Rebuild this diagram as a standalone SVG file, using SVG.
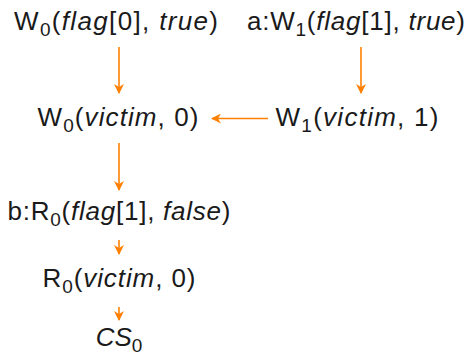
<svg xmlns="http://www.w3.org/2000/svg" width="475" height="356" viewBox="0 0 475 356">
<defs>
<marker id="ah" viewBox="0 0 10 10" refX="9" refY="5" markerWidth="10" markerHeight="10" markerUnits="userSpaceOnUse" orient="auto">
<path d="M0,0 L10,5 L0,10 L3,5 Z" fill="#ff8000"/>
</marker>
<style>
text{font-family:"Liberation Sans","DejaVu Sans",sans-serif;font-size:26px;fill:#1a1a1a;text-anchor:middle}
.i{font-style:italic}
.s{font-size:19px}
.e{stroke:#ff8000;stroke-width:1.6;fill:none;marker-end:url(#ah)}
</style>
</defs>
<g id="n1"><text x="116" y="30" textLength="204" lengthAdjust="spacing">W<tspan class="s" dy="6">0</tspan><tspan dy="-6">(</tspan><tspan class="i">flag</tspan>[0], <tspan class="i">true</tspan>)</text></g>
<g id="n2"><text x="356" y="30" textLength="218" lengthAdjust="spacing">a:W<tspan class="s" dy="6">1</tspan><tspan dy="-6">(</tspan><tspan class="i">flag</tspan>[1], <tspan class="i">true</tspan>)</text></g>
<g id="n3"><text x="118" y="126" textLength="161" lengthAdjust="spacing">W<tspan class="s" dy="6">0</tspan><tspan dy="-6">(</tspan><tspan class="i">victim</tspan>, 0)</text></g>
<g id="n4"><text x="357" y="126" textLength="163" lengthAdjust="spacing">W<tspan class="s" dy="6">1</tspan><tspan dy="-6">(</tspan><tspan class="i">victim</tspan>, 1)</text></g>
<g id="n5"><text x="119" y="220" textLength="223" lengthAdjust="spacing">b:R<tspan class="s" dy="6">0</tspan><tspan dy="-6">(</tspan><tspan class="i">flag</tspan>[1], <tspan class="i">false</tspan>)</text></g>
<g id="n6"><text x="119" y="287" textLength="153" lengthAdjust="spacing">R<tspan class="s" dy="6">0</tspan><tspan dy="-6">(</tspan><tspan class="i">victim</tspan>, 0)</text></g>
<g id="n7"><text x="119" y="346"><tspan class="i">CS</tspan><tspan class="s" dy="6">0</tspan></text></g>
<g id="edges">
<line class="e" x1="119" y1="47" x2="119" y2="93"/>
<line class="e" x1="361" y1="47" x2="361" y2="93"/>
<line class="e" x1="268" y1="118.5" x2="212" y2="118.5"/>
<line class="e" x1="119" y1="143" x2="119" y2="190"/>
<line class="e" x1="119" y1="240" x2="119" y2="254"/>
<line class="e" x1="119" y1="307" x2="119" y2="320"/>
</g>
</svg>
